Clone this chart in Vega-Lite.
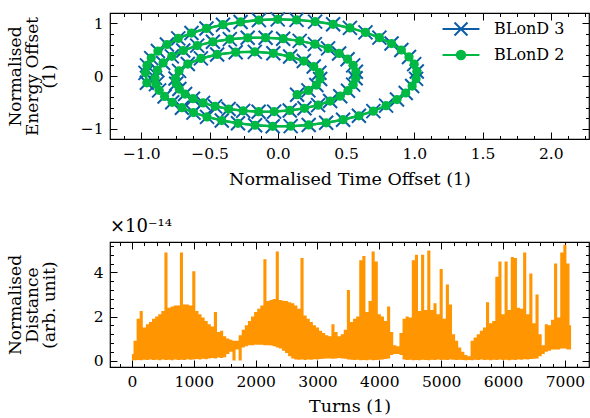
{
  "$schema": "https://vega.github.io/schema/vega-lite/v6.json",
  "background": "white",
  "padding": {"left": 5, "top": 7, "right": 3, "bottom": 4},
  "bounds": "flush",
  "spacing": 103,
  "config": {
    "font": "DejaVu Serif",
    "view": {"stroke": "black", "strokeWidth": 1.2},
    "axis": {"domain": false, "grid": false, "ticks": true, "tickColor": "black", "tickWidth": 1, "tickSize": -7, "labelPadding": 14, "labelFont": "DejaVu Serif", "labelFontSize": 15.5, "labelColor": "black", "titleFont": "DejaVu Serif", "titleFontSize": 17.5, "titleFontWeight": "normal", "titleColor": "black", "zindex": 1}
  },
  "datasets": {
    "orbit": [
      {"s":"BLonD 3","i":0,"x":0.141,"y":-0.356},{"s":"BLonD 3","i":1,"x":0.224,"y":-0.274},{"s":"BLonD 3","i":2,"x":0.282,"y":-0.172},{"s":"BLonD 3","i":3,"x":0.31,"y":-0.058},{"s":"BLonD 3","i":4,"x":0.304,"y":0.063},{"s":"BLonD 3","i":5,"x":0.263,"y":0.18},{"s":"BLonD 3","i":6,"x":0.19,"y":0.285},{"s":"BLonD 3","i":7,"x":0.09,"y":0.372},{"s":"BLonD 3","i":8,"x":-0.033,"y":0.432},{"s":"BLonD 3","i":9,"x":-0.169,"y":0.46},
      {"s":"BLonD 3","i":10,"x":-0.309,"y":0.453},{"s":"BLonD 3","i":11,"x":-0.445,"y":0.411},{"s":"BLonD 3","i":12,"x":-0.564,"y":0.335},{"s":"BLonD 3","i":13,"x":-0.66,"y":0.228},{"s":"BLonD 3","i":14,"x":-0.724,"y":0.098},{"s":"BLonD 3","i":15,"x":-0.75,"y":-0.048},{"s":"BLonD 3","i":16,"x":-0.745,"y":-0.148},{"s":"BLonD 3","i":17,"x":-0.722,"y":-0.248},{"s":"BLonD 3","i":18,"x":-0.68,"y":-0.344},{"s":"BLonD 3","i":19,"x":-0.622,"y":-0.433},
      {"s":"BLonD 3","i":20,"x":-0.548,"y":-0.512},{"s":"BLonD 3","i":21,"x":-0.46,"y":-0.578},{"s":"BLonD 3","i":22,"x":-0.361,"y":-0.63},{"s":"BLonD 3","i":23,"x":-0.254,"y":-0.664},{"s":"BLonD 3","i":24,"x":-0.141,"y":-0.68},{"s":"BLonD 3","i":25,"x":-0.027,"y":-0.678},{"s":"BLonD 3","i":26,"x":0.087,"y":-0.656},{"s":"BLonD 3","i":27,"x":0.195,"y":-0.615},{"s":"BLonD 3","i":28,"x":0.295,"y":-0.555},{"s":"BLonD 3","i":29,"x":0.383,"y":-0.477},
      {"s":"BLonD 3","i":30,"x":0.457,"y":-0.385},{"s":"BLonD 3","i":31,"x":0.514,"y":-0.28},{"s":"BLonD 3","i":32,"x":0.552,"y":-0.165},{"s":"BLonD 3","i":33,"x":0.57,"y":-0.044},{"s":"BLonD 3","i":34,"x":0.572,"y":0.08},{"s":"BLonD 3","i":35,"x":0.552,"y":0.203},{"s":"BLonD 3","i":36,"x":0.511,"y":0.32},{"s":"BLonD 3","i":37,"x":0.449,"y":0.429},{"s":"BLonD 3","i":38,"x":0.368,"y":0.526},{"s":"BLonD 3","i":39,"x":0.271,"y":0.607},
      {"s":"BLonD 3","i":40,"x":0.16,"y":0.669},{"s":"BLonD 3","i":41,"x":0.039,"y":0.711},{"s":"BLonD 3","i":42,"x":-0.09,"y":0.73},{"s":"BLonD 3","i":43,"x":-0.221,"y":0.728},{"s":"BLonD 3","i":44,"x":-0.352,"y":0.702},{"s":"BLonD 3","i":45,"x":-0.476,"y":0.652},{"s":"BLonD 3","i":46,"x":-0.591,"y":0.579},{"s":"BLonD 3","i":47,"x":-0.693,"y":0.486},{"s":"BLonD 3","i":48,"x":-0.777,"y":0.374},{"s":"BLonD 3","i":49,"x":-0.841,"y":0.248},
      {"s":"BLonD 3","i":50,"x":-0.883,"y":0.11},{"s":"BLonD 3","i":51,"x":-0.9,"y":-0.036},{"s":"BLonD 3","i":52,"x":-0.893,"y":-0.155},{"s":"BLonD 3","i":53,"x":-0.87,"y":-0.273},{"s":"BLonD 3","i":54,"x":-0.83,"y":-0.389},{"s":"BLonD 3","i":55,"x":-0.774,"y":-0.501},{"s":"BLonD 3","i":56,"x":-0.703,"y":-0.604},{"s":"BLonD 3","i":57,"x":-0.618,"y":-0.697},{"s":"BLonD 3","i":58,"x":-0.519,"y":-0.779},{"s":"BLonD 3","i":59,"x":-0.411,"y":-0.848},
      {"s":"BLonD 3","i":60,"x":-0.292,"y":-0.901},{"s":"BLonD 3","i":61,"x":-0.167,"y":-0.938},{"s":"BLonD 3","i":62,"x":-0.038,"y":-0.958},{"s":"BLonD 3","i":63,"x":0.094,"y":-0.955},{"s":"BLonD 3","i":64,"x":0.226,"y":-0.932},{"s":"BLonD 3","i":65,"x":0.354,"y":-0.891},{"s":"BLonD 3","i":66,"x":0.478,"y":-0.833},{"s":"BLonD 3","i":67,"x":0.594,"y":-0.758},{"s":"BLonD 3","i":68,"x":0.7,"y":-0.669},{"s":"BLonD 3","i":69,"x":0.793,"y":-0.565},
      {"s":"BLonD 3","i":70,"x":0.873,"y":-0.449},{"s":"BLonD 3","i":71,"x":0.937,"y":-0.324},{"s":"BLonD 3","i":72,"x":0.984,"y":-0.191},{"s":"BLonD 3","i":73,"x":1.013,"y":-0.054},{"s":"BLonD 3","i":74,"x":1.018,"y":0.087},{"s":"BLonD 3","i":75,"x":0.999,"y":0.226},{"s":"BLonD 3","i":76,"x":0.961,"y":0.363},{"s":"BLonD 3","i":77,"x":0.905,"y":0.495},{"s":"BLonD 3","i":78,"x":0.833,"y":0.618},{"s":"BLonD 3","i":79,"x":0.744,"y":0.731},
      {"s":"BLonD 3","i":80,"x":0.642,"y":0.831},{"s":"BLonD 3","i":81,"x":0.528,"y":0.916},{"s":"BLonD 3","i":82,"x":0.405,"y":0.985},{"s":"BLonD 3","i":83,"x":0.273,"y":1.036},{"s":"BLonD 3","i":84,"x":0.137,"y":1.069},{"s":"BLonD 3","i":85,"x":-0.001,"y":1.079},{"s":"BLonD 3","i":86,"x":-0.139,"y":1.065},{"s":"BLonD 3","i":87,"x":-0.273,"y":1.03},{"s":"BLonD 3","i":88,"x":-0.402,"y":0.977},{"s":"BLonD 3","i":89,"x":-0.523,"y":0.906},
      {"s":"BLonD 3","i":90,"x":-0.633,"y":0.818},{"s":"BLonD 3","i":91,"x":-0.73,"y":0.716},{"s":"BLonD 3","i":92,"x":-0.813,"y":0.6},{"s":"BLonD 3","i":93,"x":-0.879,"y":0.475},{"s":"BLonD 3","i":94,"x":-0.928,"y":0.341},{"s":"BLonD 3","i":95,"x":-0.959,"y":0.202},{"s":"BLonD 3","i":96,"x":-0.97,"y":0.06},{"s":"BLonD 3","i":97,"x":-0.96,"y":-0.13},
      {"s":"BLonD 2","i":0,"x":0.141,"y":-0.356},{"s":"BLonD 2","i":1,"x":0.224,"y":-0.274},{"s":"BLonD 2","i":2,"x":0.282,"y":-0.172},{"s":"BLonD 2","i":3,"x":0.31,"y":-0.058},{"s":"BLonD 2","i":4,"x":0.304,"y":0.063},{"s":"BLonD 2","i":5,"x":0.263,"y":0.18},{"s":"BLonD 2","i":6,"x":0.19,"y":0.285},{"s":"BLonD 2","i":7,"x":0.09,"y":0.372},{"s":"BLonD 2","i":8,"x":-0.033,"y":0.432},{"s":"BLonD 2","i":9,"x":-0.169,"y":0.46},
      {"s":"BLonD 2","i":10,"x":-0.309,"y":0.453},{"s":"BLonD 2","i":11,"x":-0.445,"y":0.411},{"s":"BLonD 2","i":12,"x":-0.564,"y":0.335},{"s":"BLonD 2","i":13,"x":-0.66,"y":0.228},{"s":"BLonD 2","i":14,"x":-0.724,"y":0.098},{"s":"BLonD 2","i":15,"x":-0.75,"y":-0.048},{"s":"BLonD 2","i":16,"x":-0.745,"y":-0.148},{"s":"BLonD 2","i":17,"x":-0.722,"y":-0.248},{"s":"BLonD 2","i":18,"x":-0.68,"y":-0.344},{"s":"BLonD 2","i":19,"x":-0.622,"y":-0.433},
      {"s":"BLonD 2","i":20,"x":-0.548,"y":-0.512},{"s":"BLonD 2","i":21,"x":-0.46,"y":-0.578},{"s":"BLonD 2","i":22,"x":-0.361,"y":-0.63},{"s":"BLonD 2","i":23,"x":-0.254,"y":-0.664},{"s":"BLonD 2","i":24,"x":-0.141,"y":-0.68},{"s":"BLonD 2","i":25,"x":-0.027,"y":-0.678},{"s":"BLonD 2","i":26,"x":0.087,"y":-0.656},{"s":"BLonD 2","i":27,"x":0.195,"y":-0.615},{"s":"BLonD 2","i":28,"x":0.295,"y":-0.555},{"s":"BLonD 2","i":29,"x":0.383,"y":-0.477},
      {"s":"BLonD 2","i":30,"x":0.457,"y":-0.385},{"s":"BLonD 2","i":31,"x":0.514,"y":-0.28},{"s":"BLonD 2","i":32,"x":0.552,"y":-0.165},{"s":"BLonD 2","i":33,"x":0.57,"y":-0.044},{"s":"BLonD 2","i":34,"x":0.572,"y":0.08},{"s":"BLonD 2","i":35,"x":0.552,"y":0.203},{"s":"BLonD 2","i":36,"x":0.511,"y":0.32},{"s":"BLonD 2","i":37,"x":0.449,"y":0.429},{"s":"BLonD 2","i":38,"x":0.368,"y":0.526},{"s":"BLonD 2","i":39,"x":0.271,"y":0.607},
      {"s":"BLonD 2","i":40,"x":0.16,"y":0.669},{"s":"BLonD 2","i":41,"x":0.039,"y":0.711},{"s":"BLonD 2","i":42,"x":-0.09,"y":0.73},{"s":"BLonD 2","i":43,"x":-0.221,"y":0.728},{"s":"BLonD 2","i":44,"x":-0.352,"y":0.702},{"s":"BLonD 2","i":45,"x":-0.476,"y":0.652},{"s":"BLonD 2","i":46,"x":-0.591,"y":0.579},{"s":"BLonD 2","i":47,"x":-0.693,"y":0.486},{"s":"BLonD 2","i":48,"x":-0.777,"y":0.374},{"s":"BLonD 2","i":49,"x":-0.841,"y":0.248},
      {"s":"BLonD 2","i":50,"x":-0.883,"y":0.11},{"s":"BLonD 2","i":51,"x":-0.9,"y":-0.036},{"s":"BLonD 2","i":52,"x":-0.893,"y":-0.155},{"s":"BLonD 2","i":53,"x":-0.87,"y":-0.273},{"s":"BLonD 2","i":54,"x":-0.83,"y":-0.389},{"s":"BLonD 2","i":55,"x":-0.774,"y":-0.501},{"s":"BLonD 2","i":56,"x":-0.703,"y":-0.604},{"s":"BLonD 2","i":57,"x":-0.618,"y":-0.697},{"s":"BLonD 2","i":58,"x":-0.519,"y":-0.779},{"s":"BLonD 2","i":59,"x":-0.411,"y":-0.848},
      {"s":"BLonD 2","i":60,"x":-0.292,"y":-0.901},{"s":"BLonD 2","i":61,"x":-0.167,"y":-0.938},{"s":"BLonD 2","i":62,"x":-0.038,"y":-0.958},{"s":"BLonD 2","i":63,"x":0.094,"y":-0.955},{"s":"BLonD 2","i":64,"x":0.226,"y":-0.932},{"s":"BLonD 2","i":65,"x":0.354,"y":-0.891},{"s":"BLonD 2","i":66,"x":0.478,"y":-0.833},{"s":"BLonD 2","i":67,"x":0.594,"y":-0.758},{"s":"BLonD 2","i":68,"x":0.7,"y":-0.669},{"s":"BLonD 2","i":69,"x":0.793,"y":-0.565},
      {"s":"BLonD 2","i":70,"x":0.873,"y":-0.449},{"s":"BLonD 2","i":71,"x":0.937,"y":-0.324},{"s":"BLonD 2","i":72,"x":0.984,"y":-0.191},{"s":"BLonD 2","i":73,"x":1.013,"y":-0.054},{"s":"BLonD 2","i":74,"x":1.018,"y":0.087},{"s":"BLonD 2","i":75,"x":0.999,"y":0.226},{"s":"BLonD 2","i":76,"x":0.961,"y":0.363},{"s":"BLonD 2","i":77,"x":0.905,"y":0.495},{"s":"BLonD 2","i":78,"x":0.833,"y":0.618},{"s":"BLonD 2","i":79,"x":0.744,"y":0.731},
      {"s":"BLonD 2","i":80,"x":0.642,"y":0.831},{"s":"BLonD 2","i":81,"x":0.528,"y":0.916},{"s":"BLonD 2","i":82,"x":0.405,"y":0.985},{"s":"BLonD 2","i":83,"x":0.273,"y":1.036},{"s":"BLonD 2","i":84,"x":0.137,"y":1.069},{"s":"BLonD 2","i":85,"x":-0.001,"y":1.079},{"s":"BLonD 2","i":86,"x":-0.139,"y":1.065},{"s":"BLonD 2","i":87,"x":-0.273,"y":1.03},{"s":"BLonD 2","i":88,"x":-0.402,"y":0.977},{"s":"BLonD 2","i":89,"x":-0.523,"y":0.906},
      {"s":"BLonD 2","i":90,"x":-0.633,"y":0.818},{"s":"BLonD 2","i":91,"x":-0.73,"y":0.716},{"s":"BLonD 2","i":92,"x":-0.813,"y":0.6},{"s":"BLonD 2","i":93,"x":-0.879,"y":0.475},{"s":"BLonD 2","i":94,"x":-0.928,"y":0.341},{"s":"BLonD 2","i":95,"x":-0.959,"y":0.202},{"s":"BLonD 2","i":96,"x":-0.97,"y":0.06},{"s":"BLonD 2","i":97,"x":-0.96,"y":-0.13}
    ],
    "dist": [
      {"t":0,"lo":0.0,"hi":0.3},{"t":50,"lo":0.02,"hi":0.9},{"t":100,"lo":0.03,"hi":1.9},{"t":150,"lo":0.02,"hi":2.25},{"t":200,"lo":0.04,"hi":1.5},{"t":250,"lo":0.03,"hi":1.65},{"t":300,"lo":0.05,"hi":1.75},{"t":350,"lo":0.03,"hi":1.9},{"t":400,"lo":0.04,"hi":2.0},{"t":450,"lo":0.02,"hi":2.1},
      {"t":500,"lo":0.05,"hi":2.25},{"t":550,"lo":0.03,"hi":4.9},{"t":600,"lo":0.04,"hi":2.4},{"t":650,"lo":0.02,"hi":2.45},{"t":700,"lo":0.05,"hi":2.5},{"t":750,"lo":0.03,"hi":2.5},{"t":800,"lo":0.04,"hi":4.9},{"t":850,"lo":0.03,"hi":2.55},{"t":900,"lo":0.06,"hi":2.55},{"t":950,"lo":0.04,"hi":2.5},
      {"t":1000,"lo":0.05,"hi":4.05},{"t":1050,"lo":0.07,"hi":2.25},{"t":1100,"lo":0.05,"hi":2.1},{"t":1150,"lo":0.08,"hi":1.95},{"t":1200,"lo":0.06,"hi":1.8},{"t":1250,"lo":0.1,"hi":1.65},{"t":1300,"lo":0.12,"hi":1.55},{"t":1350,"lo":0.1,"hi":2.2},{"t":1400,"lo":0.14,"hi":1.3},{"t":1450,"lo":0.12,"hi":1.35},
      {"t":1500,"lo":0.15,"hi":1.1},{"t":1550,"lo":0.3,"hi":1.0},{"t":1600,"lo":0.4,"hi":0.95},{"t":1650,"lo":0.0,"hi":0.9},{"t":1700,"lo":0.5,"hi":0.9},{"t":1750,"lo":0.0,"hi":1.15},{"t":1800,"lo":0.6,"hi":1.4},{"t":1850,"lo":0.65,"hi":1.6},{"t":1900,"lo":0.7,"hi":1.8},{"t":1950,"lo":0.7,"hi":2.0},
      {"t":2000,"lo":0.72,"hi":2.2},{"t":2050,"lo":0.72,"hi":2.35},{"t":2100,"lo":0.72,"hi":2.5},{"t":2150,"lo":0.7,"hi":4.6},{"t":2200,"lo":0.7,"hi":2.7},{"t":2250,"lo":0.68,"hi":2.75},{"t":2300,"lo":0.65,"hi":2.8},{"t":2350,"lo":0.6,"hi":4.95},{"t":2400,"lo":0.55,"hi":2.75},{"t":2450,"lo":0.45,"hi":2.72},
      {"t":2500,"lo":0.35,"hi":2.7},{"t":2550,"lo":0.2,"hi":2.65},{"t":2600,"lo":0.1,"hi":2.6},{"t":2650,"lo":0.05,"hi":2.5},{"t":2700,"lo":0.04,"hi":2.35},{"t":2750,"lo":0.05,"hi":4.65},{"t":2800,"lo":0.03,"hi":2.05},{"t":2850,"lo":0.05,"hi":1.9},{"t":2900,"lo":0.04,"hi":1.75},{"t":2950,"lo":0.06,"hi":1.6},
      {"t":3000,"lo":0.05,"hi":1.5},{"t":3050,"lo":0.07,"hi":1.35},{"t":3100,"lo":0.08,"hi":1.25},{"t":3150,"lo":0.1,"hi":1.15},{"t":3200,"lo":0.1,"hi":1.1},{"t":3250,"lo":0.08,"hi":1.65},{"t":3300,"lo":0.1,"hi":1.3},{"t":3350,"lo":0.12,"hi":1.1},{"t":3400,"lo":0.1,"hi":1.2},{"t":3450,"lo":0.08,"hi":1.4},
      {"t":3500,"lo":0.05,"hi":3.2},{"t":3550,"lo":0.04,"hi":1.75},{"t":3600,"lo":0.03,"hi":1.9},{"t":3650,"lo":0.04,"hi":2.0},{"t":3700,"lo":0.02,"hi":4.55},{"t":3750,"lo":0.03,"hi":4.75},{"t":3800,"lo":0.02,"hi":2.2},{"t":3850,"lo":0.04,"hi":2.7},{"t":3900,"lo":0.02,"hi":4.95},{"t":3950,"lo":0.03,"hi":4.5},
      {"t":4000,"lo":0.04,"hi":2.1},{"t":4050,"lo":0.05,"hi":2.0},{"t":4100,"lo":0.07,"hi":1.8},{"t":4150,"lo":0.1,"hi":2.45},{"t":4200,"lo":0.25,"hi":1.3},{"t":4250,"lo":0.3,"hi":0.7},{"t":4300,"lo":0.3,"hi":0.65},{"t":4350,"lo":0.25,"hi":1.25},{"t":4400,"lo":0.05,"hi":1.9},{"t":4450,"lo":0.03,"hi":2.0},
      {"t":4500,"lo":0.04,"hi":1.95},{"t":4550,"lo":0.02,"hi":4.55},{"t":4600,"lo":0.03,"hi":4.8},{"t":4650,"lo":0.02,"hi":2.25},{"t":4700,"lo":0.04,"hi":4.8},{"t":4750,"lo":0.03,"hi":2.3},{"t":4800,"lo":0.02,"hi":5.0},{"t":4850,"lo":0.04,"hi":2.3},{"t":4900,"lo":0.03,"hi":2.6},{"t":4950,"lo":0.05,"hi":2.1},
      {"t":5000,"lo":0.03,"hi":4.15},{"t":5050,"lo":0.04,"hi":1.9},{"t":5100,"lo":0.03,"hi":3.45},{"t":5150,"lo":0.05,"hi":2.55},{"t":5200,"lo":0.04,"hi":1.2},{"t":5250,"lo":0.03,"hi":0.9},{"t":5300,"lo":0.04,"hi":0.6},{"t":5350,"lo":0.03,"hi":0.4},{"t":5400,"lo":0.02,"hi":0.25},{"t":5450,"lo":0.03,"hi":0.2},
      {"t":5500,"lo":0.02,"hi":0.9},{"t":5550,"lo":0.04,"hi":1.05},{"t":5600,"lo":0.03,"hi":1.2},{"t":5650,"lo":0.05,"hi":1.35},{"t":5700,"lo":0.03,"hi":1.5},{"t":5750,"lo":0.04,"hi":2.65},{"t":5800,"lo":0.02,"hi":1.7},{"t":5850,"lo":0.04,"hi":1.8},{"t":5900,"lo":0.03,"hi":3.8},{"t":5950,"lo":0.05,"hi":4.5},
      {"t":6000,"lo":0.03,"hi":2.1},{"t":6050,"lo":0.04,"hi":4.5},{"t":6100,"lo":0.02,"hi":2.3},{"t":6150,"lo":0.04,"hi":4.7},{"t":6200,"lo":0.03,"hi":4.65},{"t":6250,"lo":0.05,"hi":2.4},{"t":6300,"lo":0.04,"hi":2.35},{"t":6350,"lo":0.06,"hi":4.9},{"t":6400,"lo":0.05,"hi":2.1},{"t":6450,"lo":0.07,"hi":3.95},
      {"t":6500,"lo":0.08,"hi":1.7},{"t":6550,"lo":0.1,"hi":3.0},{"t":6600,"lo":0.2,"hi":1.2},{"t":6650,"lo":0.3,"hi":0.7},{"t":6700,"lo":0.4,"hi":1.65},{"t":6750,"lo":0.45,"hi":1.6},{"t":6800,"lo":0.5,"hi":1.85},{"t":6850,"lo":0.5,"hi":4.4},{"t":6900,"lo":0.5,"hi":1.95},{"t":6950,"lo":0.55,"hi":4.9},
      {"t":7000,"lo":0.55,"hi":5.25},{"t":7050,"lo":0.5,"hi":4.4},{"t":7100,"lo":0.5,"hi":1.6}
    ]
  },
  "vconcat": [
    {
      "width": 479,
      "height": 126,
      "data": {"name": "orbit"},
      "layer": [
        {
          "encoding": {
            "x": {"field": "x", "type": "quantitative", "scale": {"domain": [-1.23, 2.28], "nice": false, "zero": false}, "axis": {"orient": "bottom", "values": [-1, -0.5, 0, 0.5, 1, 1.5, 2], "format": ".1f", "title": "Normalised Time Offset (1)", "titlePadding": 9}},
            "y": {"field": "y", "type": "quantitative", "scale": {"domain": [-1.2, 1.2], "nice": false, "zero": false}, "axis": {"orient": "left", "values": [-1, 0, 1], "format": "d", "title": ["Normalised", "Energy Offset", "(1)"], "titleX": -86, "titleFontSize": 17, "titleLineHeight": 17}},
            "color": {
              "field": "s", "type": "nominal",
              "scale": {"domain": ["BLonD 3", "BLonD 2"], "range": ["#0C5DA5", "#00B945"]},
              "legend": {
                "orient": "none", "legendX": 341, "legendY": 6, "title": null, "padding": 0,
                "labelFont": "DejaVu Serif", "labelFontSize": 16, "labelColor": "black",
                "symbolSize": 324, "labelOffset": 23, "rowPadding": 5,
                "encode": {
                  "symbols": {
                    "update": {
                      "shape": {"signal": "datum.value === 'BLonD 3' ? 'M-2.05,0L2.05,0M-0.72,-0.72L0.72,0.72M-0.72,0.72L0.72,-0.72' : 'M-2.05,0L2.05,0M0.47,0A0.47,0.47 0 1,1 -0.47,0A0.47,0.47 0 1,1 0.47,0Z'"},
                      "fill": {"signal": "datum.value === 'BLonD 3' ? 'transparent' : '#00B945'"},
                      "stroke": {"signal": "datum.value === 'BLonD 3' ? '#0C5DA5' : '#00B945'"},
                      "strokeWidth": {"value": 2},
                      "opacity": {"value": 1},
                      "fillOpacity": {"value": 1},
                      "strokeOpacity": {"value": 1}
                    }
                  }
                }
              }
            },
            "order": {"field": "i", "type": "quantitative"}
          },
          "layer": [
            {"transform": [{"filter": "datum.s === 'BLonD 3'"}], "mark": {"type": "line", "strokeWidth": 2}},
            {"transform": [{"filter": "datum.s === 'BLonD 3'"}], "mark": {"type": "point", "shape": "M-1,-1L1,1M-1,1L1,-1", "filled": false, "size": 196, "strokeWidth": 2, "opacity": 1}},
            {"transform": [{"filter": "datum.s === 'BLonD 2'"}], "mark": {"type": "line", "strokeWidth": 2.5}},
            {"transform": [{"filter": "datum.s === 'BLonD 2'"}], "mark": {"type": "point", "shape": "circle", "filled": true, "size": 85, "opacity": 1}}
          ]
        },
        {
          "mark": {"type": "point", "opacity": 0},
          "encoding": {
            "x": {"field": "x", "type": "quantitative", "scale": {"domain": [-1.23, 2.28], "nice": false, "zero": false}, "axis": {"orient": "bottom", "values": [-1.125, -0.875, -0.75, -0.625, -0.375, -0.25, -0.125, 0.125, 0.25, 0.375, 0.625, 0.75, 0.875, 1.125, 1.25, 1.375, 1.625, 1.75, 1.875, 2.125, 2.25], "labels": false, "title": null, "tickSize": -3.5}},
            "y": {"field": "y", "type": "quantitative", "scale": {"domain": [-1.2, 1.2], "nice": false, "zero": false}, "axis": {"orient": "left", "values": [-0.8, -0.6, -0.4, -0.2, 0.2, 0.4, 0.6, 0.8], "labels": false, "title": null, "tickSize": -3.5}}
          }
        },
        {
          "mark": {"type": "point", "opacity": 0},
          "encoding": {
            "x": {"field": "x", "type": "quantitative", "scale": {"domain": [-1.23, 2.28], "nice": false, "zero": false}, "axis": {"orient": "top", "values": [-1, -0.5, 0, 0.5, 1, 1.5, 2], "labels": false, "title": null}},
            "y": {"field": "y", "type": "quantitative", "scale": {"domain": [-1.2, 1.2], "nice": false, "zero": false}, "axis": {"orient": "right", "values": [-1, 0, 1], "labels": false, "title": null}}
          }
        },
        {
          "mark": {"type": "point", "opacity": 0},
          "encoding": {
            "x": {"field": "x", "type": "quantitative", "scale": {"domain": [-1.23, 2.28], "nice": false, "zero": false}, "axis": {"orient": "top", "values": [-1.125, -0.875, -0.75, -0.625, -0.375, -0.25, -0.125, 0.125, 0.25, 0.375, 0.625, 0.75, 0.875, 1.125, 1.25, 1.375, 1.625, 1.75, 1.875, 2.125, 2.25], "labels": false, "title": null, "tickSize": -3.5}},
            "y": {"field": "y", "type": "quantitative", "scale": {"domain": [-1.2, 1.2], "nice": false, "zero": false}, "axis": {"orient": "right", "values": [-0.8, -0.6, -0.4, -0.2, 0.2, 0.4, 0.6, 0.8], "labels": false, "title": null, "tickSize": -3.5}}
          }
        }
      ],
      "resolve": {"axis": {"x": "independent", "y": "independent"}}
    },
    {
      "width": 479,
      "height": 125,
      "data": {"name": "dist"},
      "title": {"text": "×10⁻¹⁴", "anchor": "start", "frame": "group", "offset": 6, "font": "DejaVu Serif", "fontSize": 18, "fontWeight": "normal", "color": "black"},
      "layer": [
        {
          "mark": {"type": "area", "color": "#FF9500", "opacity": 1, "interpolate": "step"},
          "encoding": {
            "x": {"field": "t", "type": "quantitative", "scale": {"domain": [-355, 7390], "nice": false, "zero": false}, "axis": {"orient": "bottom", "values": [0, 1000, 2000, 3000, 4000, 5000, 6000, 7000], "format": "d", "title": "Turns (1)", "titlePadding": 8}},
            "y": {"field": "lo", "type": "quantitative", "scale": {"domain": [-0.29, 5.38], "nice": false, "zero": false}, "axis": {"orient": "left", "values": [0, 2, 4], "format": "d", "title": ["Normalised", "Distance", "(arb. unit)"], "titleX": -86, "titleFontSize": 17, "titleLineHeight": 17}},
            "y2": {"field": "hi"}
          }
        },
        {
          "mark": {"type": "point", "opacity": 0},
          "encoding": {
            "x": {"field": "t", "type": "quantitative", "scale": {"domain": [-355, 7390], "nice": false, "zero": false}, "axis": {"orient": "bottom", "values": [-200, 200, 400, 600, 800, 1200, 1400, 1600, 1800, 2200, 2400, 2600, 2800, 3200, 3400, 3600, 3800, 4200, 4400, 4600, 4800, 5200, 5400, 5600, 5800, 6200, 6400, 6600, 6800, 7200], "labels": false, "title": null, "tickSize": -3.5}},
            "y": {"field": "hi", "type": "quantitative", "scale": {"domain": [-0.29, 5.38], "nice": false, "zero": false}, "axis": {"orient": "left", "values": [0.4, 0.8, 1.2, 1.6, 2.4, 2.8, 3.2, 3.6, 4.4, 4.8, 5.2], "labels": false, "title": null, "tickSize": -3.5}}
          }
        },
        {
          "mark": {"type": "point", "opacity": 0},
          "encoding": {
            "x": {"field": "t", "type": "quantitative", "scale": {"domain": [-355, 7390], "nice": false, "zero": false}, "axis": {"orient": "top", "values": [0, 1000, 2000, 3000, 4000, 5000, 6000, 7000], "labels": false, "title": null}},
            "y": {"field": "hi", "type": "quantitative", "scale": {"domain": [-0.29, 5.38], "nice": false, "zero": false}, "axis": {"orient": "right", "values": [0, 2, 4], "labels": false, "title": null}}
          }
        },
        {
          "mark": {"type": "point", "opacity": 0},
          "encoding": {
            "x": {"field": "t", "type": "quantitative", "scale": {"domain": [-355, 7390], "nice": false, "zero": false}, "axis": {"orient": "top", "values": [-200, 200, 400, 600, 800, 1200, 1400, 1600, 1800, 2200, 2400, 2600, 2800, 3200, 3400, 3600, 3800, 4200, 4400, 4600, 4800, 5200, 5400, 5600, 5800, 6200, 6400, 6600, 6800, 7200], "labels": false, "title": null, "tickSize": -3.5}},
            "y": {"field": "hi", "type": "quantitative", "scale": {"domain": [-0.29, 5.38], "nice": false, "zero": false}, "axis": {"orient": "right", "values": [0.4, 0.8, 1.2, 1.6, 2.4, 2.8, 3.2, 3.6, 4.4, 4.8, 5.2], "labels": false, "title": null, "tickSize": -3.5}}
          }
        }
      ],
      "resolve": {"axis": {"x": "independent", "y": "independent"}}
    }
  ]
}
